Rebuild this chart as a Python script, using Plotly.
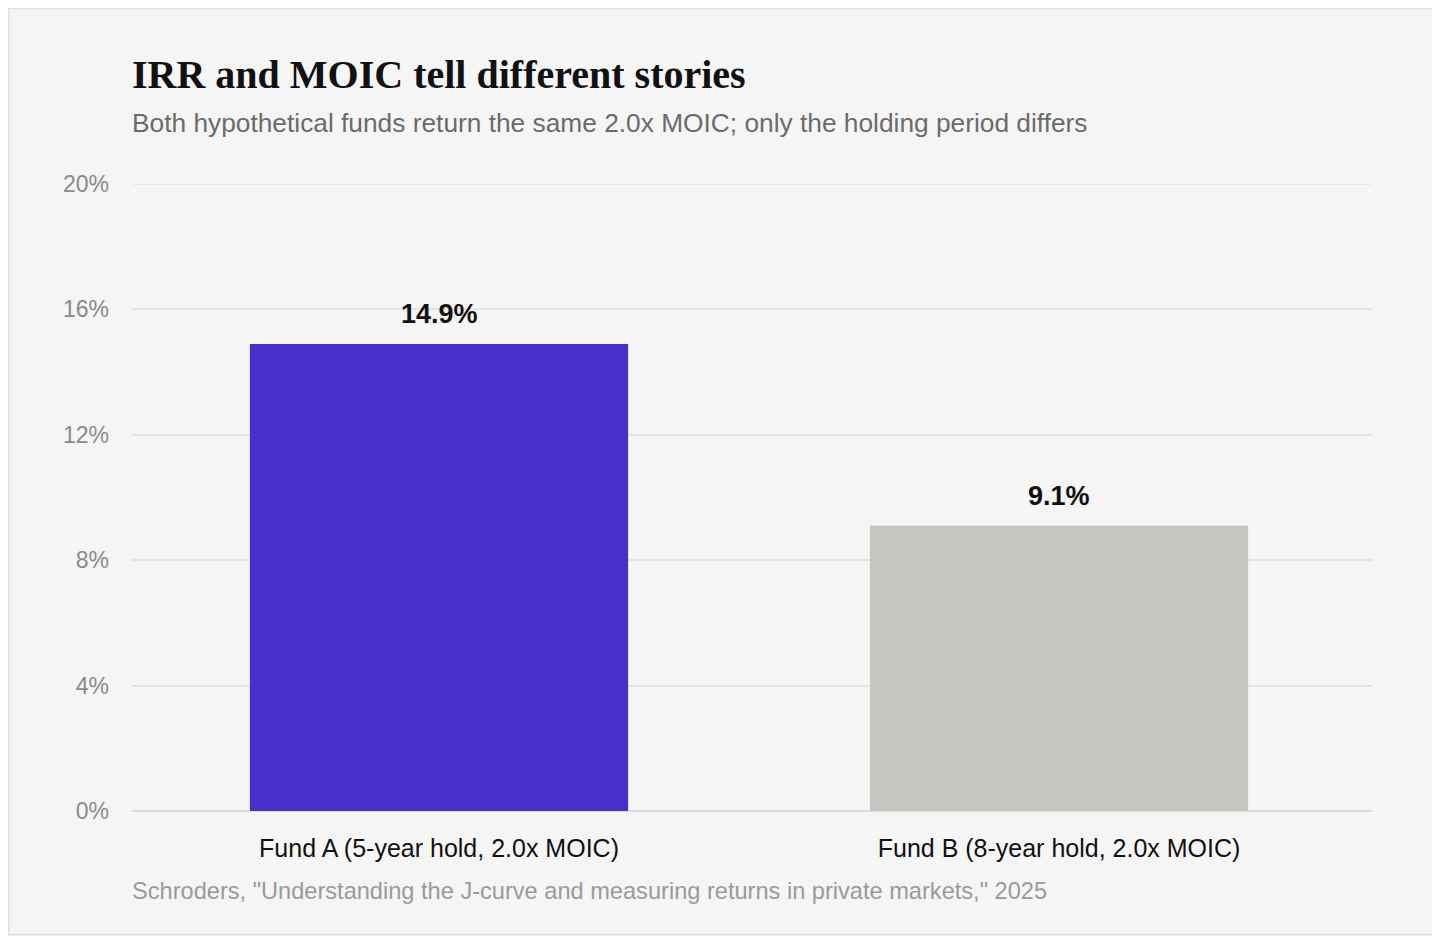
import plotly.graph_objects as go

categories = ["Fund A (5-year hold, 2.0x MOIC)", "Fund B (8-year hold, 2.0x MOIC)"]
irr_values = [14.9, 9.1]
bar_labels = ["14.9%", "9.1%"]
bar_colors = ["#4a2ecc", "#c6c5c0"]
y_ticks = [0, 4, 8, 12, 16, 20]
y_tick_labels = ["0%", "4%", "8%", "12%", "16%", "20%"]

title = "IRR and MOIC tell different stories"
subtitle = "Both hypothetical funds return the same 2.0x MOIC; only the holding period differs"
source = 'Schroders, "Understanding the J-curve and measuring returns in private markets," 2025'

SANS = "Liberation Sans, Arial, Helvetica, sans-serif"
SERIF = "Liberation Serif, Times New Roman, serif"

# page body adds an 8px offset; compensate so screen coords match
OFF = 8
W, H = 1440 - OFF, 936 - OFF
plot_left, plot_right = 132 - OFF, 1372 - OFF
plot_top, plot_bottom = 184 - OFF, 811 - OFF
pw = plot_right - plot_left
ph = plot_bottom - plot_top


def px_to_paper_y(screen_y):
    return (plot_bottom - (screen_y - OFF)) / ph


def px_to_paper_x(screen_x):
    return ((screen_x - OFF) - plot_left) / pw


fig = go.Figure()
fig.add_trace(go.Bar(
    x=categories,
    y=irr_values,
    marker=dict(color=bar_colors, line=dict(width=0)),
    width=0.61,
    hoverinfo="skip",
))

annotations = []
for c, v, t in zip(categories, irr_values, bar_labels):
    annotations.append(dict(
        x=c, y=v, xref="x", yref="y", text=t, showarrow=False,
        yanchor="bottom", yshift=13,
        font=dict(family=SANS, size=27, color="#111111", weight="bold"),
    ))

annotations += [
    dict(x=0, y=px_to_paper_y(75), xref="paper", yref="paper", text="<b>" + title + "</b>",
         showarrow=False, xanchor="left", yanchor="middle", xshift=-2,
         font=dict(family=SERIF, size=40, color="#111111")),
    dict(x=0, y=px_to_paper_y(123), xref="paper", yref="paper", text=subtitle,
         showarrow=False, xanchor="left", yanchor="middle", xshift=-2,
         font=dict(family=SANS, size=26.3, color="#6b6b6b")),
    dict(x=0, y=px_to_paper_y(891), xref="paper", yref="paper", text=source,
         showarrow=False, xanchor="left", yanchor="middle", xshift=-2,
         font=dict(family=SANS, size=23.6, color="#9a9a9a")),
]

fig.update_layout(
    width=W, height=H,
    margin=dict(l=plot_left, r=W - plot_right, t=plot_top, b=H - plot_bottom, autoexpand=False),
    paper_bgcolor="#f5f5f5",
    plot_bgcolor="#f5f5f5",
    showlegend=False,
    annotations=annotations,
    xaxis=dict(
        range=[-0.4952, 1.5048],
        showgrid=False, showline=False, zeroline=False, ticks="",
        tickfont=dict(family=SANS, size=25, color="#111111"),
        ticklabelstandoff=20,
        fixedrange=True,
    ),
    yaxis=dict(
        range=[0, 20], tickvals=y_ticks, ticktext=y_tick_labels,
        showgrid=True, gridcolor="#e4e4e4", gridwidth=1.5,
        zeroline=True, zerolinecolor="#dcdcdc", zerolinewidth=2,
        showline=False, ticks="",
        tickfont=dict(family=SANS, size=23, color="#8a8a8a"),
        ticklabelstandoff=22,
        fixedrange=True,
    ),
)

# top gridline (plotly omits gridlines on the plot edge)
fig.add_shape(type="line", xref="paper", yref="y", x0=0, x1=1, y0=y_ticks[-1], y1=y_ticks[-1],
              line=dict(color="#e4e4e4", width=1.5), layer="below")

# card border
fig.add_shape(type="rect", xref="paper", yref="paper",
              x0=px_to_paper_x(OFF + 0.5), x1=px_to_paper_x(1438.5),
              y0=px_to_paper_y(934.5), y1=px_to_paper_y(OFF + 0.5),
              line=dict(color="#e0e0e0", width=1.5), fillcolor="rgba(0,0,0,0)", layer="below")

fig.write_html("out.html", config={"displayModeBar": False})
